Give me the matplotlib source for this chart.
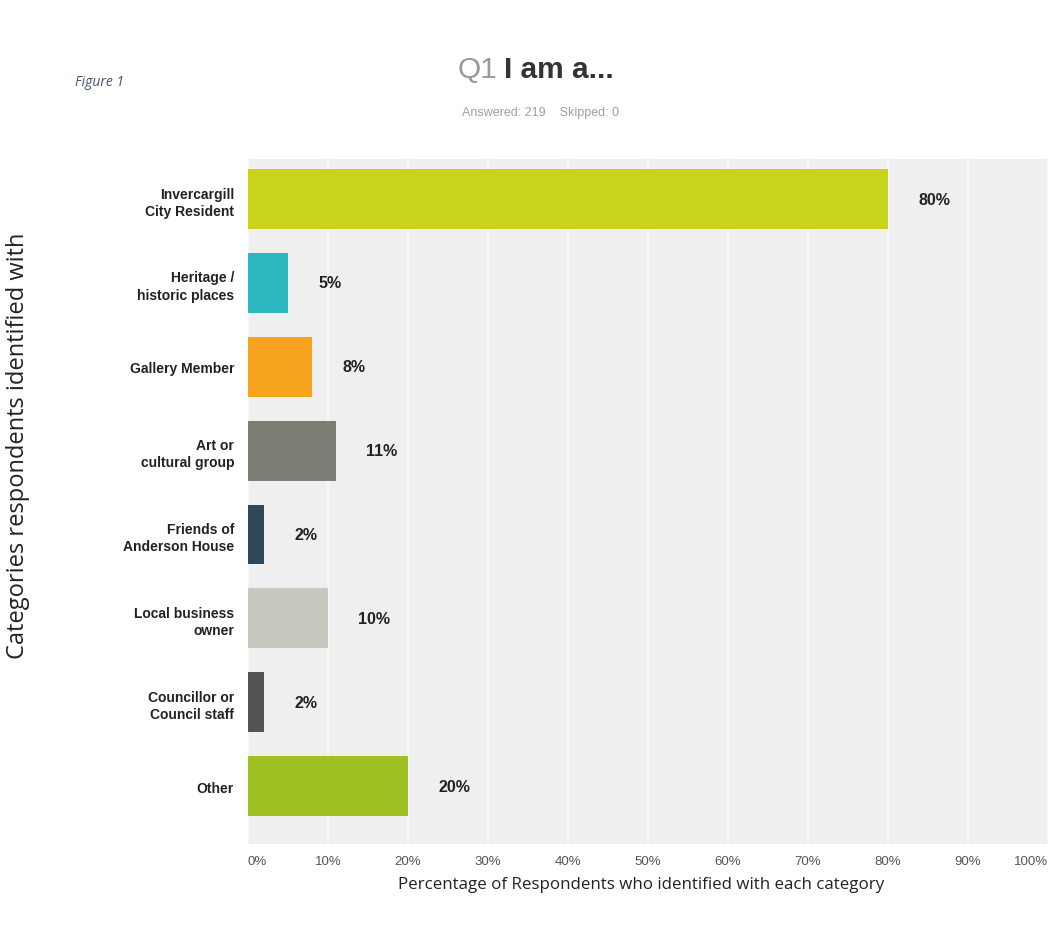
import matplotlib.pyplot as plt
import numpy as np

categories = ["Invercargill\nCity Resident", "Heritage /\nhistoric places", "Gallery Member",
              "Art or\ncultural group", "Friends of\nAnderson House", "Local business\nowner",
              "Councillor or\nCouncil staff", "Other"]
values = [80, 5, 8, 11, 2, 10, 2, 20]
colors = ["#c9d41c", "#2cb6c0", "#f5a21c", "#7d7d73", "#2f4858", "#c8c8bf", "#535350", "#9fc123"]
ticks = np.arange(0, 101, 10)
tick_labels = [f"{t}%" for t in ticks]

plt.rcParams['font.family'] = ['Liberation Sans', 'DejaVu Sans']

fig = plt.figure(figsize=(10.51, 9.28), dpi=100)
ax = fig.add_axes([248/1051, 1 - 845/928, 800/1051, 685/928])
ax.set_facecolor("#efefef")

y = np.arange(len(categories))
ax.barh(y, values, height=0.715, color=colors, zorder=3)
for yi, v in zip(y, values):
    ax.text(v + 3.8, yi, f"{v}%", va="center", ha="left", fontsize=11.5,
            fontweight="bold", color="#222222", zorder=4)

ax.set_xlim(0, 100)
ax.set_ylim(7.69, -0.477)
ax.set_xticks(ticks)
ax.set_xticklabels(tick_labels, fontsize=9.5, color="#555555")
# keep the last tick label inside the figure
xl = ax.get_xticklabels()
for lab in xl:
    lab.set_x(lab.get_position()[0])
xl[0].set_ha("left")
xl[-1].set_ha("right")
ax.set_yticks(y)
ax.set_yticklabels(categories, fontsize=10, fontweight="bold", color="#222222",
                   linespacing=1.3)
ax.tick_params(axis="both", length=0)
ax.tick_params(axis="x", pad=8)
ax.tick_params(axis="y", pad=10)
ax.grid(axis="x", color="#f8f8f8", lw=1.2, zorder=1)
for s in ax.spines.values():
    s.set_visible(False)

fig.text(75/1051, 1 - 82/928, "Figure 1", fontsize=10, style="italic",
         color="#44546a", family=["Open Sans", "DejaVu Sans"], va="center")
fig.text(497/1051, 1 - 70/928, "Q1", fontsize=21.5, color="#999999", ha="right", va="center")
fig.text(504/1051, 1 - 70/928, "I am a...", fontsize=21.5, color="#333333",
         fontweight="bold", ha="left", va="center")
fig.text(540/1051, 1 - 113/928, "Answered: 219    Skipped: 0", fontsize=9,
         color="#a0a0a0", ha="center", va="center")
fig.text(18/1051, 1 - 446/928, "Categories respondents identified with", fontsize=17,
         rotation=90, ha="center", va="center", color="#222222",
         family=["Open Sans", "DejaVu Sans"])
fig.text(641/1051, 1 - 885/928, "Percentage of Respondents who identified with each category",
         fontsize=12.2, ha="center", va="center", color="#222222",
         family=["Open Sans", "DejaVu Sans"])

fig.savefig("out.png", dpi=100, facecolor="white")
